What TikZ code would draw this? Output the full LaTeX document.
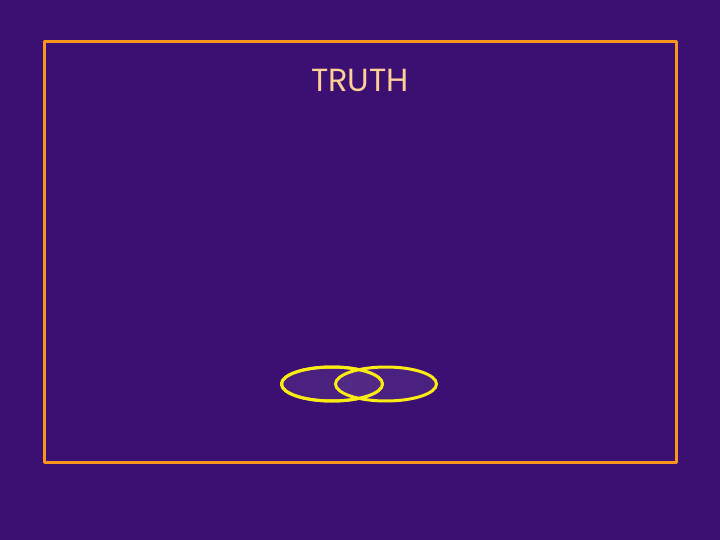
\documentclass[tikz,border=0pt]{standalone}
\usepackage{fontspec}
\setmainfont{Poppins}
\usetikzlibrary{shapes.geometric}
\definecolor{bgpurple}{RGB}{60,16,114}
\definecolor{frameorange}{RGB}{250,150,30}
\definecolor{titlepeach}{RGB}{255,208,150}
\definecolor{ringyellow}{RGB}{250,235,20}
\definecolor{ringfill}{RGB}{90,50,140}
\tikzset{ring/.style={ellipse,draw=ringyellow,line width=3pt,minimum width=101pt,minimum height=34pt,inner sep=0pt,fill=ringfill,fill opacity=0.5}}
\begin{document}
\begin{tikzpicture}[x=1pt,y=-1pt,line join=round]
  \fill[bgpurple] (0,0) rectangle (720,540);
  \useasboundingbox (0,0) rectangle (720,540);
  \draw[frameorange,line width=3pt] (44,42) rectangle (676,462);
  \node[text=titlepeach,font=\fontsize{32}{38}\selectfont] (title) at (360,80) {TRUTH};
  \node[ring] (left) at (332,384) {};
  \node[ring] (right) at (386,384) {};
  % redraw left outline on top
  \draw[ringyellow,line width=3pt] (332,384) ellipse (50.5pt and 17pt);
\end{tikzpicture}
\end{document}
